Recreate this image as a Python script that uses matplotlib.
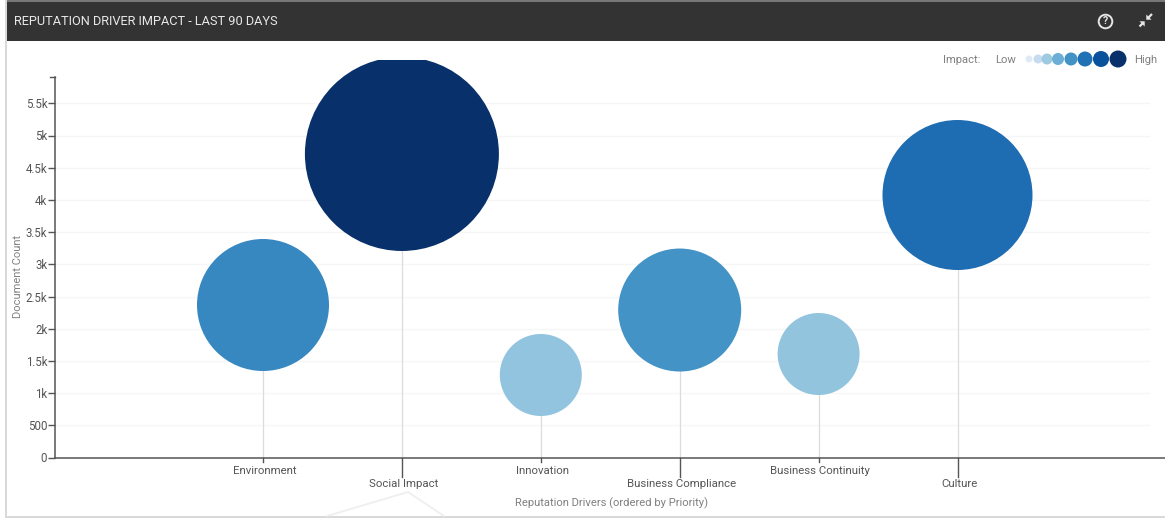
import matplotlib
matplotlib.use("Agg")
import matplotlib.pyplot as plt
from matplotlib.patches import Rectangle

plt.rcParams['font.family'] = ['Roboto', 'DejaVu Sans']

drivers = ["Environment", "Social Impact", "Innovation",
           "Business Compliance", "Business Continuity", "Culture"]
doc_counts = [2368, 4713, 1281, 2290, 1607, 4076]
bubble_sizes = [132, 194, 82, 123, 82, 150]
bubble_colors = ["#3787c0", "#08306b", "#92c4e0", "#4393c7", "#92c4de", "#1e6cb2"]

y_ticks = [0, 500, 1000, 1500, 2000, 2500, 3000, 3500, 4000, 4500, 5000, 5500]
y_tick_labels = ["0", "500", "1k", "1.5k", "2k", "2.5k", "3k", "3.5k", "4k", "4.5k", "5k", "5.5k"]

legend_colors = ["#deebf7", "#c6dbef", "#9ecae1", "#6baed6",
                 "#4292c6", "#2171b5", "#08519c", "#08306b"]
legend_sizes = [7, 9, 11, 12, 13, 15, 16, 17]
legend_x = [1029, 1038, 1047, 1058, 1071, 1085, 1101, 1118]

W, H = 1165, 518
DPI = 100
fig = plt.figure(figsize=(W / DPI, H / DPI), dpi=DPI, facecolor="white")

# Overlay in pixel coordinates for the panel frame, header and legend
bg = fig.add_axes([0, 0, 1, 1], zorder=0)
bg.set_xlim(0, W)
bg.set_ylim(H, 0)
bg.axis("off")
bg.add_patch(Rectangle((5, 0), 2, H, color="#d9d9d9", lw=0))
bg.plot([327, 408, 444], [516, 492, 516], color="#efefef", lw=1.3)
bg.add_patch(Rectangle((5, 515.5), W, 2.5, color="#d9d9d9", lw=0))
bg.add_patch(Rectangle((7, 0), W, 41, color="#333333", lw=0))
bg.add_patch(Rectangle((7, 0), W, 1.5, color="#777777", lw=0))

# Plot area: 139 px per category, 32.2 px per 500 documents
px_per_cat, px_per_500 = 138.9, 32.2
x0, grid_end, y0, y_clip, y_axis_top = 263.0, 1149.0, 457.5, 60.0, 77.0
ax = fig.add_axes([55 / W, (H - y0) / H, (W - 55) / W, (y0 - y_clip) / H], zorder=1)
ax.patch.set_alpha(0)
ax.set_xlim((55 - x0) / px_per_cat, (W - x0) / px_per_cat)
ax.set_ylim(0, (y0 - y_clip) / px_per_500 * 500)
cats = list(range(len(drivers)))

# Faint horizontal guides
x_end = (grid_end - x0) / px_per_cat
for v in y_ticks[1:]:
    ax.plot([ax.get_xlim()[0], x_end], [v, v], color="#f6f6f6", lw=0.9, zorder=1)

# Stems from the axis up to each bubble centre
for c, v in zip(cats, doc_counts):
    ax.plot([c, c], [0, v], color="#dcdcdc", lw=0.9, zorder=2)

# Bubbles, sized by diameter in pixels
ax.scatter(cats, doc_counts, s=[(d * 72 / DPI) ** 2 for d in bubble_sizes],
           c=bubble_colors, linewidths=0, zorder=3)

for s in ("top", "right"):
    ax.spines[s].set_visible(False)
for s in ("left", "bottom"):
    ax.spines[s].set_color("#555555")
    ax.spines[s].set_linewidth(1.1)
ax.spines["left"].set_bounds(0, (y0 - y_axis_top) / px_per_500 * 500)

ax.set_yticks(y_ticks)
ax.set_yticklabels(y_tick_labels)
ax.tick_params(axis="y", length=5, width=1, color="#555555", labelcolor="#555555",
               labelsize=8.3, pad=0.5)

# Category labels alternate between two rows, the lower row on longer ticks
ax.set_xticks(cats)
ax.set_xticklabels([])
ax.tick_params(axis="x", length=0)
for c, name in zip(cats, drivers):
    lower = c % 2 == 1
    tick_px = 19 if lower else 4
    ax.plot([c, c], [0, -tick_px / px_per_500 * 500], color="#555555", lw=1.0,
            clip_on=False, zorder=4)
    bg.text(x0 + 1.5 + c * px_per_cat, 487 if lower else 473.5, name, ha="center", va="baseline",
            fontsize=8.2, color="#555555")

# Closing tick at the top of the y axis
bg.plot([50, 55], [y_axis_top, y_axis_top], color="#555555", lw=1.0)

bg.text(612, 506, "Reputation Drivers (ordered by Priority)", ha="center", va="baseline",
        fontsize=8.1, color="#808080")
bg.text(18, 276, "Document Count", rotation=90, ha="center", va="center",
        fontsize=8.0, color="#808080")

# Header
bg.text(14.5, 25, "REPUTATION DRIVER IMPACT - LAST 90 DAYS", ha="left", va="baseline",
        fontsize=9.2, color="#e8e8e8")
bg.plot([1105], [21], marker="o", ms=9.8, mfc="none", mec="#e6e6e6", mew=1.4)
bg.text(1105, 21, "?", ha="center", va="center", fontsize=7.5, fontweight="bold", color="#e6e6e6")

# Collapse icon: two arrowheads meeting on the diagonal
icon_color = "#e6e6e6"
bg.plot([1147.5, 1152], [18.5, 14], color=icon_color, lw=1.6, solid_capstyle="butt")
bg.plot([1143.5, 1139.5], [22.5, 26.5], color=icon_color, lw=1.6, solid_capstyle="butt")
bg.fill([1146.3, 1146.3, 1151.5], [19.7, 14.5, 19.7], color=icon_color, lw=0)
bg.fill([1144.7, 1144.7, 1139.5], [21.3, 26.5, 21.3], color=icon_color, lw=0)

# Impact legend
bg.text(943, 63, "Impact:", ha="left", va="baseline", fontsize=8.1, color="#808080")
bg.text(995, 63, "Low", ha="left", va="baseline", fontsize=8.1, color="#808080")
bg.text(1134.5, 63, "High", ha="left", va="baseline", fontsize=8.1, color="#808080")
bg.scatter(legend_x, [59] * len(legend_x), s=[(d * 72 / DPI) ** 2 for d in legend_sizes],
           c=legend_colors, linewidths=0, zorder=3)

fig.savefig("out.png", dpi=DPI, facecolor="white")
